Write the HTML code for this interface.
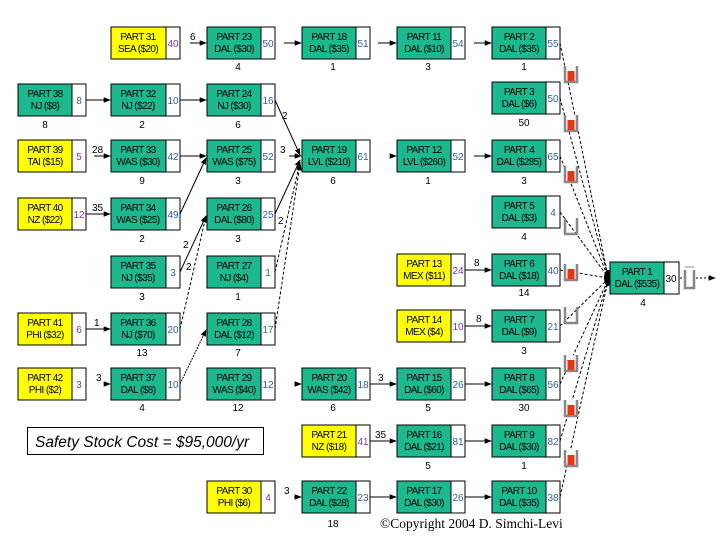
<!DOCTYPE html>
<html><head><meta charset="utf-8"><style>
html,body{margin:0;padding:0;background:#fff;width:720px;height:540px;overflow:hidden}
svg text{font-family:"Liberation Sans",sans-serif;}
.t{font-size:10px;letter-spacing:-0.6px;fill:#000}
.n{font-size:10px;fill:#2f5fa0}
.p{font-size:10px;fill:#7a3a9a}
.l{font-size:10px;fill:#000}
</style></head><body>
<svg width="720" height="540" viewBox="0 0 720 540" xmlns="http://www.w3.org/2000/svg">
<defs>
<marker id="a" viewBox="0 0 10 10" refX="9" refY="5" markerWidth="7" markerHeight="7" orient="auto"><path d="M0,1 L10,5 L0,9 z" fill="#000"/></marker>
<g id="cup"><path d="M-6,0 V16 H6 V0" fill="#fff" stroke="#888" stroke-width="2.5"/><rect x="-3.5" y="5" width="7" height="10" fill="#ee3311"/></g>
<g id="ecup"><path d="M-6,0 V16 H6 V0" fill="none" stroke="#888" stroke-width="2.5"/></g>
</defs>

<g stroke="#000" stroke-width="1" fill="none">
<line x1="190" y1="43" x2="206" y2="43" marker-end="url(#a)"/>
<line x1="284" y1="43" x2="301" y2="43" marker-end="url(#a)"/>
<line x1="378" y1="43" x2="396" y2="43" marker-end="url(#a)"/>
<line x1="474" y1="43" x2="491" y2="43" marker-end="url(#a)"/>
<line x1="86" y1="100" x2="110" y2="100" marker-end="url(#a)"/>
<line x1="180" y1="100" x2="206" y2="100" marker-end="url(#a)"/>
<line x1="275" y1="100" x2="300" y2="155" marker-end="url(#a)"/>
<line x1="94" y1="156" x2="110" y2="156" marker-end="url(#a)"/>
<line x1="180" y1="156" x2="206" y2="156" marker-end="url(#a)"/>
<line x1="289" y1="156" x2="301" y2="156" marker-end="url(#a)"/>
<line x1="180" y1="214" x2="206" y2="158" marker-end="url(#a)"/>
<line x1="86" y1="214" x2="110" y2="214" marker-end="url(#a)"/>
<line x1="275" y1="214" x2="300" y2="160" marker-end="url(#a)"/>
<line x1="180" y1="272" x2="206" y2="216" marker-end="url(#a)"/>
<line x1="180" y1="329" x2="206" y2="216" stroke-dasharray="3,2" marker-end="url(#a)"/>
<line x1="275" y1="272" x2="300" y2="162" stroke-dasharray="3,2" marker-end="url(#a)"/>
<line x1="275" y1="329" x2="300" y2="164" stroke-dasharray="3,2" marker-end="url(#a)"/>
<line x1="180" y1="384" x2="206" y2="330" stroke-dasharray="2,1" marker-end="url(#a)"/>
<line x1="86" y1="329" x2="110" y2="329" marker-end="url(#a)"/>
<line x1="104" y1="384" x2="110" y2="384" marker-end="url(#a)"/>
<line x1="294" y1="384" x2="301" y2="384" marker-end="url(#a)"/>
<line x1="370" y1="384" x2="396" y2="384" marker-end="url(#a)"/>
<line x1="465" y1="384" x2="491" y2="384" marker-end="url(#a)"/>
<line x1="370" y1="441" x2="396" y2="441" marker-end="url(#a)"/>
<line x1="465" y1="441" x2="491" y2="441" marker-end="url(#a)"/>
<line x1="294" y1="497" x2="301" y2="497" marker-end="url(#a)"/>
<line x1="370" y1="497" x2="396" y2="497" marker-end="url(#a)"/>
<line x1="465" y1="497" x2="491" y2="497" marker-end="url(#a)"/>
<line x1="390" y1="156" x2="396" y2="156" marker-end="url(#a)"/>
<line x1="474" y1="156" x2="491" y2="156" marker-end="url(#a)"/>
<line x1="465" y1="270" x2="491" y2="270" marker-end="url(#a)"/>
<line x1="465" y1="326" x2="491" y2="326" marker-end="url(#a)"/>
<line x1="680" y1="278" x2="715" y2="278" stroke-dasharray="2,2" marker-end="url(#a)"/>
<g stroke-dasharray="3,2">
<line x1="560" y1="43" x2="608" y2="276"/>
<line x1="560" y1="98" x2="608" y2="276"/>
<line x1="560" y1="156" x2="608" y2="277"/>
<line x1="560" y1="212" x2="608" y2="277"/>
<line x1="560" y1="270" x2="608" y2="278"/>
<line x1="560" y1="326" x2="608" y2="279"/>
<line x1="560" y1="384" x2="608" y2="280"/>
<line x1="560" y1="441" x2="608" y2="280"/>
<line x1="560" y1="497" x2="608" y2="281"/>
</g>
</g>
<ellipse cx="608" cy="278" rx="4" ry="8" fill="#000"/>

<g class="l">
<text x="190" y="40">6</text><text x="282" y="119">2</text><text x="92" y="153">28</text>
<text x="280" y="153">3</text><text x="92" y="211">35</text><text x="278" y="224">2</text>
<text x="183" y="248">2</text><text x="186" y="270">2</text><text x="94" y="326">1</text>
<text x="96" y="381">3</text><text x="378" y="381">3</text><text x="375" y="438">35</text>
<text x="284" y="494">3</text><text x="474" y="266">8</text><text x="476" y="322">8</text>
</g>

<g stroke="#000" stroke-width="1">
<g fill="#ffff00">
<rect x="111" y="27" width="55" height="32"/><rect x="18" y="140" width="54" height="32"/>
<rect x="18" y="198" width="54" height="32"/><rect x="397" y="254" width="54" height="32"/>
<rect x="18" y="313" width="54" height="32"/><rect x="397" y="310" width="54" height="32"/>
<rect x="18" y="368" width="54" height="32"/><rect x="302" y="425" width="54" height="32"/>
<rect x="207" y="481" width="54" height="32"/>
</g>
<g fill="#1db98e">
<rect x="207" y="27" width="54" height="32"/><rect x="302" y="27" width="54" height="32"/>
<rect x="397" y="27" width="54" height="32"/><rect x="492" y="27" width="54" height="32"/>
<rect x="18" y="84" width="54" height="32"/><rect x="111" y="84" width="55" height="32"/>
<rect x="207" y="84" width="54" height="32"/><rect x="492" y="82" width="54" height="32"/>
<rect x="111" y="140" width="55" height="32"/><rect x="207" y="140" width="54" height="32"/>
<rect x="302" y="140" width="54" height="32"/><rect x="397" y="140" width="54" height="32"/>
<rect x="492" y="140" width="54" height="32"/>
<rect x="111" y="198" width="55" height="32"/><rect x="207" y="198" width="54" height="32"/>
<rect x="492" y="196" width="54" height="32"/>
<rect x="111" y="256" width="55" height="32"/><rect x="207" y="256" width="54" height="32"/>
<rect x="492" y="254" width="54" height="32"/><rect x="610" y="262" width="54" height="32"/>
<rect x="111" y="313" width="55" height="32"/><rect x="207" y="313" width="54" height="32"/>
<rect x="492" y="310" width="54" height="32"/>
<rect x="111" y="368" width="55" height="32"/><rect x="207" y="368" width="54" height="32"/>
<rect x="302" y="368" width="54" height="32"/><rect x="397" y="368" width="54" height="32"/>
<rect x="492" y="368" width="54" height="32"/>
<rect x="397" y="425" width="54" height="32"/><rect x="492" y="425" width="54" height="32"/>
<rect x="302" y="481" width="54" height="32"/><rect x="397" y="481" width="54" height="32"/>
<rect x="492" y="481" width="54" height="32"/>
</g>
<g fill="#fff">
<rect x="166" y="27" width="14" height="32"/><rect x="261" y="27" width="14" height="32"/>
<rect x="356" y="27" width="14" height="32"/><rect x="451" y="27" width="14" height="32"/>
<rect x="546" y="27" width="14" height="32"/>
<rect x="72" y="84" width="14" height="32"/><rect x="166" y="84" width="14" height="32"/>
<rect x="261" y="84" width="14" height="32"/><rect x="546" y="82" width="14" height="32"/>
<rect x="72" y="140" width="14" height="32"/><rect x="166" y="140" width="14" height="32"/>
<rect x="261" y="140" width="14" height="32"/><rect x="356" y="140" width="14" height="32"/>
<rect x="451" y="140" width="14" height="32"/><rect x="546" y="140" width="14" height="32"/>
<rect x="72" y="198" width="14" height="32"/><rect x="166" y="198" width="14" height="32"/>
<rect x="261" y="198" width="14" height="32"/><rect x="546" y="196" width="14" height="32"/>
<rect x="166" y="256" width="14" height="32"/><rect x="261" y="256" width="14" height="32"/>
<rect x="451" y="254" width="14" height="32"/><rect x="546" y="254" width="14" height="32"/>
<rect x="664" y="262" width="15" height="32"/>
<rect x="72" y="313" width="14" height="32"/><rect x="166" y="313" width="14" height="32"/>
<rect x="261" y="313" width="14" height="32"/><rect x="451" y="310" width="14" height="32"/>
<rect x="546" y="310" width="14" height="32"/>
<rect x="72" y="368" width="14" height="32"/><rect x="166" y="368" width="14" height="32"/>
<rect x="261" y="368" width="14" height="32"/><rect x="356" y="368" width="14" height="32"/>
<rect x="451" y="368" width="14" height="32"/><rect x="546" y="368" width="14" height="32"/>
<rect x="356" y="425" width="14" height="32"/><rect x="451" y="425" width="14" height="32"/>
<rect x="546" y="425" width="14" height="32"/>
<rect x="261" y="481" width="14" height="32"/><rect x="356" y="481" width="14" height="32"/>
<rect x="451" y="481" width="14" height="32"/><rect x="546" y="481" width="14" height="32"/>
</g>
</g>

<g class="t" text-anchor="middle">
<text x="138" y="40">PART 31</text><text x="138" y="52">SEA ($20)</text>
<text x="234" y="40">PART 23</text><text x="234" y="52">DAL ($30)</text>
<text x="329" y="40">PART 18</text><text x="329" y="52">DAL ($35)</text>
<text x="424" y="40">PART 11</text><text x="424" y="52">DAL ($10)</text>
<text x="519" y="40">PART 2</text><text x="519" y="52">DAL ($35)</text>
<text x="45" y="97">PART 38</text><text x="45" y="109">NJ ($8)</text>
<text x="138" y="97">PART 32</text><text x="138" y="109">NJ ($22)</text>
<text x="234" y="97">PART 24</text><text x="234" y="109">NJ ($30)</text>
<text x="519" y="95">PART 3</text><text x="519" y="107">DAL ($6)</text>
<text x="45" y="153">PART 39</text><text x="45" y="165">TAI ($15)</text>
<text x="138" y="153">PART 33</text><text x="138" y="165">WAS ($30)</text>
<text x="234" y="153">PART 25</text><text x="234" y="165">WAS ($75)</text>
<text x="329" y="153">PART 19</text><text x="329" y="165">LVL ($210)</text>
<text x="424" y="153">PART 12</text><text x="424" y="165">LVL ($260)</text>
<text x="519" y="153">PART 4</text><text x="519" y="165">DAL ($285)</text>
<text x="45" y="211">PART 40</text><text x="45" y="223">NZ ($22)</text>
<text x="138" y="211">PART 34</text><text x="138" y="223">WAS ($25)</text>
<text x="234" y="211">PART 26</text><text x="234" y="223">DAL ($80)</text>
<text x="519" y="209">PART 5</text><text x="519" y="221">DAL ($3)</text>
<text x="138" y="269">PART 35</text><text x="138" y="281">NJ ($35)</text>
<text x="234" y="269">PART 27</text><text x="234" y="281">NJ ($4)</text>
<text x="424" y="267">PART 13</text><text x="424" y="279">MEX ($11)</text>
<text x="519" y="267">PART 6</text><text x="519" y="279">DAL ($18)</text>
<text x="637" y="275">PART 1</text><text x="637" y="287">DAL ($535)</text>
<text x="45" y="326">PART 41</text><text x="45" y="338">PHI ($32)</text>
<text x="138" y="326">PART 36</text><text x="138" y="338">NJ ($70)</text>
<text x="234" y="326">PART 28</text><text x="234" y="338">DAL ($12)</text>
<text x="424" y="323">PART 14</text><text x="424" y="335">MEX ($4)</text>
<text x="519" y="323">PART 7</text><text x="519" y="335">DAL ($9)</text>
<text x="45" y="381">PART 42</text><text x="45" y="393">PHI ($2)</text>
<text x="138" y="381">PART 37</text><text x="138" y="393">DAL ($8)</text>
<text x="234" y="381">PART 29</text><text x="234" y="393">WAS ($40)</text>
<text x="329" y="381">PART 20</text><text x="329" y="393">WAS ($42)</text>
<text x="424" y="381">PART 15</text><text x="424" y="393">DAL ($60)</text>
<text x="519" y="381">PART 8</text><text x="519" y="393">DAL ($65)</text>
<text x="329" y="438">PART 21</text><text x="329" y="450">NZ ($18)</text>
<text x="424" y="438">PART 16</text><text x="424" y="450">DAL ($21)</text>
<text x="519" y="438">PART 9</text><text x="519" y="450">DAL ($30)</text>
<text x="234" y="494">PART 30</text><text x="234" y="506">PHI ($6)</text>
<text x="329" y="494">PART 22</text><text x="329" y="506">DAL ($28)</text>
<text x="424" y="494">PART 17</text><text x="424" y="506">DAL ($30)</text>
<text x="519" y="494">PART 10</text><text x="519" y="506">DAL ($35)</text>
</g>

<g text-anchor="middle">
<text class="p" x="173" y="47">40</text><text class="n" x="268" y="47">50</text>
<text class="n" x="363" y="47">51</text><text class="n" x="458" y="47">54</text>
<text class="n" x="553" y="47">55</text>
<text class="n" x="79" y="104">8</text><text class="n" x="173" y="104">10</text>
<text class="n" x="268" y="104">16</text><text class="n" x="553" y="102">50</text>
<text class="p" x="79" y="160">5</text><text class="n" x="173" y="160">42</text>
<text class="n" x="268" y="160">52</text><text class="n" x="363" y="160">61</text>
<text class="n" x="458" y="160">52</text><text class="n" x="553" y="160">65</text>
<text class="p" x="79" y="218">12</text><text class="n" x="173" y="218">49</text>
<text class="n" x="268" y="218">25</text><text class="n" x="553" y="216">4</text>
<text class="n" x="173" y="276">3</text><text class="n" x="268" y="276">1</text>
<text class="p" x="458" y="274">24</text><text class="n" x="553" y="274">40</text>
<text class="l" x="671" y="282">30</text>
<text class="p" x="79" y="333">6</text><text class="n" x="173" y="333">20</text>
<text class="n" x="268" y="333">17</text><text class="p" x="458" y="330">10</text>
<text class="n" x="553" y="330">21</text>
<text class="p" x="79" y="388">3</text><text class="n" x="173" y="388">10</text>
<text class="n" x="268" y="388">12</text><text class="n" x="363" y="388">18</text>
<text class="n" x="458" y="388">26</text><text class="n" x="553" y="388">56</text>
<text class="p" x="363" y="445">41</text><text class="n" x="458" y="445">81</text>
<text class="n" x="553" y="445">82</text>
<text class="p" x="268" y="501">4</text><text class="n" x="363" y="501">23</text>
<text class="n" x="458" y="501">26</text><text class="n" x="553" y="501">38</text>
</g>

<g class="l" text-anchor="middle">
<text x="238" y="70">4</text><text x="333" y="70">1</text><text x="428" y="70">3</text><text x="524" y="70">1</text>
<text x="45" y="128">8</text><text x="142" y="128">2</text><text x="238" y="128">6</text><text x="524" y="126">50</text>
<text x="142" y="184">9</text><text x="238" y="184">3</text><text x="333" y="184">6</text><text x="428" y="184">1</text><text x="524" y="184">3</text>
<text x="142" y="242">2</text><text x="238" y="242">3</text><text x="524" y="240">4</text>
<text x="142" y="300">3</text><text x="238" y="300">1</text><text x="524" y="296">14</text><text x="643" y="306">4</text>
<text x="142" y="356">13</text><text x="238" y="356">7</text><text x="524" y="354">3</text>
<text x="142" y="411">4</text><text x="238" y="411">12</text><text x="333" y="411">6</text><text x="428" y="411">5</text><text x="524" y="411">30</text>
<text x="428" y="469">5</text><text x="524" y="469">1</text>
<text x="333" y="527">18</text>
</g>

<use href="#cup" x="571" y="66"/><use href="#cup" x="571" y="115"/><use href="#cup" x="571" y="166"/>
<use href="#ecup" x="571" y="218"/><use href="#cup" x="571" y="264"/><use href="#ecup" x="571" y="307"/>
<use href="#cup" x="571" y="355"/><use href="#cup" x="571" y="400"/><use href="#cup" x="571" y="450"/>
<g><path d="M685,270 V288 H694 V270" fill="#fff" stroke="#888" stroke-width="2.5"/><line x1="685" y1="267" x2="694" y2="267" stroke="#888"/></g>

<rect x="27.5" y="427.5" width="236" height="27" fill="#fff" stroke="#000"/>
<text x="35" y="447" style="font-size:15.5px;font-style:italic" fill="#000">Safety Stock Cost = $95,000/yr</text>

<text x="380" y="528" style="font-family:'Liberation Serif',serif;font-size:13.5px" fill="#000">©Copyright 2004 D. Simchi-Levi</text>
</svg>
</body></html>
